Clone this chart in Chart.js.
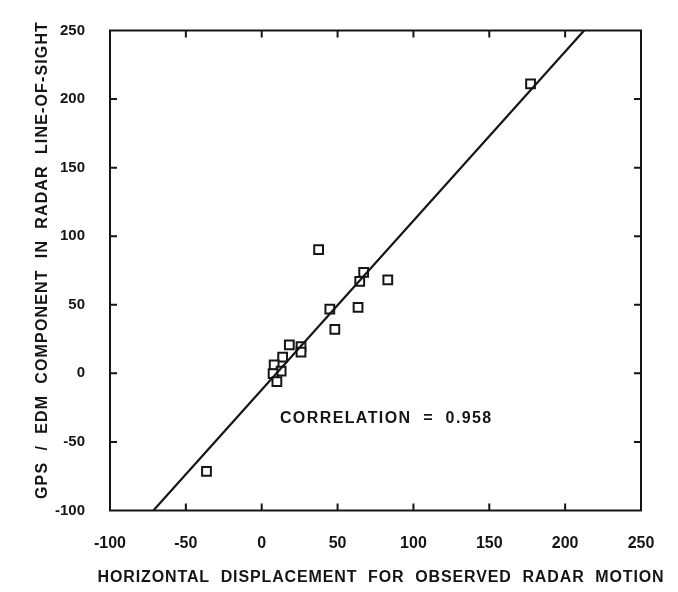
<!DOCTYPE html>
<html>
<head>
<meta charset="utf-8">
<script src="https://cdn.jsdelivr.net/npm/chart.js@4.4.0/dist/chart.umd.min.js"></script>
<style>
    body { margin: 0; background: #ffffff; }
    canvas { display: block; }
</style>
</head>
<body>
<canvas id="radarChart" width="678" height="592"></canvas>
<script>
// values
const xValues = [37.5, 67.2, 64.6, 83.1, 44.9, 63.5, 48.2, 18.2, 25.9, 25.9, 13.8, 8.2, 12.8, 7.5, 10.0, 177.2, -36.4];
const yValues = [90.3, 73.7, 67.1, 68.1, 46.9, 48.1, 32.0, 20.8, 19.5, 15.5, 11.9, 6.1, 1.6, -0.2, -6.1, 211.1, -71.4];

// fitted line end points
const fitX = [-71.4, 212.5];
const fitY = [-100, 250];

const xTicks = [-100, -50, 0, 50, 100, 150, 200, 250];
const yTicks = [-100, -50, 0, 50, 100, 150, 200, 250];

const xTitle = 'HORIZONTAL  DISPLACEMENT  FOR  OBSERVED  RADAR  MOTION';
const yTitle = 'GPS  /  EDM  COMPONENT  IN  RADAR  LINE-OF-SIGHT';
const corrText = 'CORRELATION  =  0.958';
const corrPos = { x: 12, y: -36 };

const ink = '#151515';

// draw text spread out to a given width
function spacedText(ctx, text, x, y, width) {
    ctx.letterSpacing = '0px';
    const natural = ctx.measureText(text).width;
    const ls = Math.max(0, (width - natural) / text.length);
    ctx.letterSpacing = ls + 'px';
    ctx.textAlign = 'left';
    const w = ctx.measureText(text).width;
    ctx.fillText(text, x - w / 2, y);
    ctx.letterSpacing = '0px';
}

// frame, inward ticks, axis titles and the correlation label
const framePlugin = {
    id: 'framePlugin',
    afterDraw(chart) {
        const ctx = chart.ctx;
        const area = chart.chartArea;
        const xs = chart.scales.x;
        const ys = chart.scales.y;
        ctx.save();
        ctx.strokeStyle = ink;
        ctx.lineWidth = 2;
        ctx.strokeRect(area.left, area.top, area.right - area.left, area.bottom - area.top);

        const tl = 7;
        ctx.beginPath();
        xTicks.slice(1, -1).forEach(v => {
            const px = xs.getPixelForValue(v);
            ctx.moveTo(px, area.bottom); ctx.lineTo(px, area.bottom - tl);
            ctx.moveTo(px, area.top); ctx.lineTo(px, area.top + tl);
        });
        yTicks.slice(1, -1).forEach(v => {
            const py = ys.getPixelForValue(v);
            ctx.moveTo(area.left, py); ctx.lineTo(area.left + tl, py);
            ctx.moveTo(area.right, py); ctx.lineTo(area.right - tl, py);
        });
        ctx.stroke();

        ctx.fillStyle = ink;
        ctx.textBaseline = 'alphabetic';
        ctx.font = 'bold 16px "Liberation Sans", Arial, sans-serif';
        spacedText(ctx, xTitle, 381, 582, 567);

        ctx.save();
        ctx.translate(47, 260);
        ctx.rotate(-Math.PI / 2);
        spacedText(ctx, yTitle, 0, 0, 478);
        ctx.restore();

        ctx.font = 'bold 16px "Liberation Sans", Arial, sans-serif';
        ctx.letterSpacing = '1.4px';
        ctx.textAlign = 'left';
        ctx.fillText(corrText, xs.getPixelForValue(corrPos.x), ys.getPixelForValue(corrPos.y));
        ctx.restore();
    }
};

const points = xValues.map((x, i) => ({ x: x, y: yValues[i] }));
const fitLine = fitX.map((x, i) => ({ x: x, y: fitY[i] }));

const ctx = document.getElementById('radarChart').getContext('2d');
const radarChart = new Chart(ctx, {
    type: 'scatter',
    data: {
        datasets: [
            {
                data: fitLine,
                showLine: true,
                borderColor: ink,
                borderWidth: 2.2,
                pointRadius: 0,
                fill: false
            },
            {
                data: points,
                pointStyle: 'rect',
                pointRadius: 6.2,
                pointBackgroundColor: '#ffffff',
                pointBorderColor: ink,
                pointBorderWidth: 2
            }
        ]
    },
    options: {
        responsive: false,
        animation: false,
        devicePixelRatio: 1,
        layout: { padding: { left: 0, right: 37, top: 30.5, bottom: 0 } },
        plugins: {
            legend: { display: false },
            tooltip: { enabled: false }
        },
        scales: {
            x: {
                type: 'linear',
                min: -100,
                max: 250,
                afterBuildTicks: (scale) => { scale.ticks = xTicks.map(v => ({ value: v })); },
                afterFit: (scale) => { scale.height = 81.5; },
                grid: { display: false },
                border: { display: false },
                ticks: {
                    padding: 15,
                    maxRotation: 0,
                    color: ink,
                    font: { family: '"Liberation Sans", Arial, sans-serif', size: 16, weight: 'bold' }
                }
            },
            y: {
                type: 'linear',
                min: -100,
                max: 250,
                afterBuildTicks: (scale) => { scale.ticks = yTicks.map(v => ({ value: v })); },
                afterFit: (scale) => { scale.width = 110; },
                grid: { display: false },
                border: { display: false },
                ticks: {
                    padding: 17,
                    color: ink,
                    font: { family: '"Liberation Sans", Arial, sans-serif', size: 15, weight: 'bold' }
                }
            }
        }
    },
    plugins: [framePlugin]
});
</script>
</body>
</html>
